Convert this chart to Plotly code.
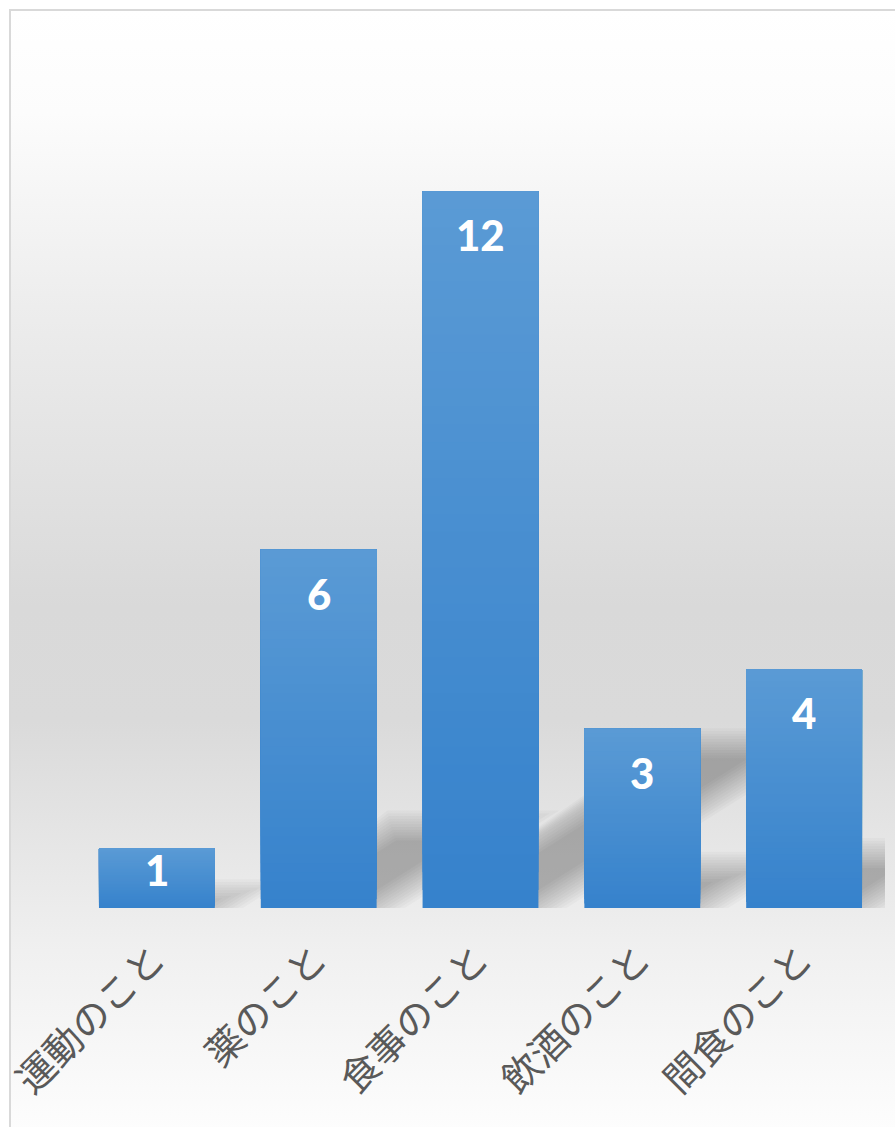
import base64
import plotly.graph_objects as go

# ---- data ----
categories = ["運動のこと", "薬のこと", "食事のこと", "飲酒のこと", "間食のこと"]
values = [1, 6, 12, 3, 4]
y_max = 14

# ---- layout constants ----
W, H = 895, 1127
ML, MR, MT, MB = 76, 10, 72, 219
FRAME_X, FRAME_Y = 10, 10
plot_w = W - ML - MR
plot_h = H - MT - MB
px_per_unit = plot_h / y_max
px_per_cat = plot_w / len(categories)
BAR_W = 0.716

BAR_BOTTOM = (54, 130, 204)
BAR_TOP = (91, 155, 213)

# perspective shadow parameters (styling)
SH_SCALE = 0.23      # vertical squash of the shadow
SH_SLOPE = 0.63      # rise/run of the skewed shadow edges (pixels)
SH_BLUR = 15         # half-width of the soft edge in px
SH_LAYERS = 12
SH_ALPHA = 0.022


def mix(a, b, t):
    return "rgb(%d,%d,%d)" % tuple(round(a[i] + (b[i] - a[i]) * t) for i in range(3))


fig = go.Figure()

# soft perspective shadows behind bars (layered to fake a blur)
for i, v in enumerate(values):
    h_px = v * px_per_unit * SH_SCALE
    bar_left = i - BAR_W / 2
    for j in range(SH_LAYERS):
        d = -SH_BLUR + 2 * SH_BLUR * j / (SH_LAYERS - 1)
        dx = d * (1 + 1 / SH_SLOPE ** 2) ** 0.5 / px_per_cat
        y0 = max(d, 0) / px_per_unit
        y1 = (h_px - d) / px_per_unit
        if y1 <= y0:
            continue
        xl = i - BAR_W / 2 + dx
        xr = i + BAR_W / 2 - dx
        if xr <= xl:
            continue
        s0 = (y0 * px_per_unit / SH_SLOPE) / px_per_cat
        s1 = (y1 * px_per_unit / SH_SLOPE) / px_per_cat
        bl = max(xl + s0, bar_left)
        path = (f"M {bl},{y0} L {xr + s0},{y0} "
                f"L {xr + s1},{y1} L {xl + s1},{y1} Z")
        fig.add_shape(type="path", path=path, xref="x", yref="y",
                      fillcolor=f"rgba(0,0,0,{SH_ALPHA})", line=dict(width=0),
                      layer="below")

# main bars
fig.add_trace(go.Bar(
    x=categories, y=values,
    marker=dict(color=mix(BAR_BOTTOM, BAR_TOP, 0), line=dict(width=0)),
    width=BAR_W, hoverinfo="x+y", showlegend=False,
))

# vertical gradient overlay on each bar
N = 40
for k in range(1, N):
    t = k / N
    fig.add_trace(go.Bar(
        x=categories,
        y=[v * (1 - t) for v in values],
        base=[v * t for v in values],
        marker=dict(color=mix(BAR_BOTTOM, BAR_TOP, t), line=dict(width=0)),
        width=BAR_W, hoverinfo="skip", showlegend=False,
    ))

# data labels (inside end)
for c, v in zip(categories, values):
    shift = -min(44, v * px_per_unit - 38)
    fig.add_annotation(
        x=c, y=v, xref="x", yref="y", yshift=shift, showarrow=False,
        text=str(v),
        font=dict(family="Lato", size=42, color="white", weight=900),
    )

# background: chart-area gradient and frame (SVG image)
svg = f'''<svg xmlns="http://www.w3.org/2000/svg" width="{W}" height="{H}" viewBox="0 0 {W} {H}" preserveAspectRatio="none">
<defs><linearGradient id="g" x1="0" y1="0" x2="0" y2="1">
<stop offset="0" stop-color="#ffffff"/>
<stop offset="0.09" stop-color="#fcfcfc"/>
<stop offset="0.27" stop-color="#ececec"/>
<stop offset="0.52" stop-color="#d9d9d9"/>
<stop offset="0.62" stop-color="#dadada"/>
<stop offset="0.82" stop-color="#f0f0f0"/>
<stop offset="1" stop-color="#ffffff"/>
</linearGradient></defs>
<rect x="0" y="0" width="{W}" height="{H}" fill="#ffffff"/>
<rect x="{FRAME_X}" y="{FRAME_Y}" width="{W + 20}" height="{H + 20}" fill="url(#g)" stroke="#d9d9d9" stroke-width="2"/>
</svg>'''
uri = "data:image/svg+xml;base64," + base64.b64encode(svg.encode()).decode()
fig.add_layout_image(dict(
    source=uri, xref="paper", yref="paper",
    x=-ML / plot_w, y=1 + MT / plot_h,
    sizex=W / plot_w, sizey=H / plot_h,
    xanchor="left", yanchor="top", sizing="stretch", layer="below",
))

fig.update_layout(
    width=W, height=H,
    margin=dict(l=ML, r=MR, t=MT, b=MB, pad=0, autoexpand=False),
    paper_bgcolor="white", plot_bgcolor="rgba(0,0,0,0)",
    barmode="overlay",
    showlegend=False,
    xaxis=dict(
        type="category", range=[-0.5, 4.5], automargin=False,
        tickangle=-45, showgrid=False, zeroline=False, showline=False, ticks="",
        ticklabelstandoff=20, ticklabelshift=-3,
        tickfont=dict(family="Noto Sans CJK JP", size=38, color="#595959"),
        fixedrange=True,
    ),
    yaxis=dict(range=[0, y_max], visible=False, fixedrange=True, automargin=False),
)

fig.write_html(
    "out.html",
    config={"displayModeBar": False},
    post_script="document.body.style.margin='0';document.body.style.overflow='hidden';",
)
